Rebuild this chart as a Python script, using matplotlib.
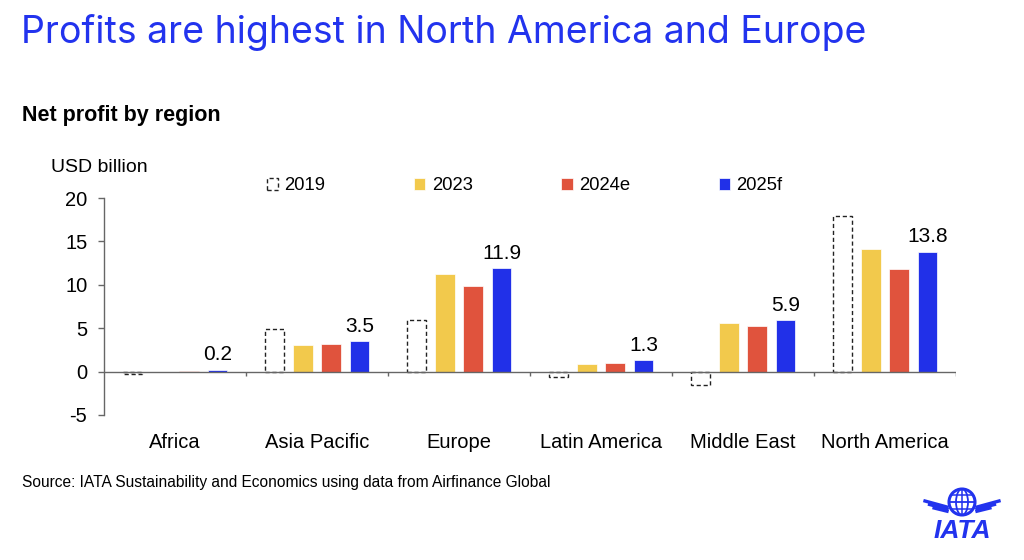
import matplotlib
matplotlib.use("Agg")
import matplotlib.pyplot as plt
import numpy as np
from matplotlib.patches import Circle, Ellipse

regions = ["Africa", "Asia Pacific", "Europe", "Latin America", "Middle East", "North America"]
series_names = ["2019", "2023", "2024e", "2025f"]
v2019 = [-0.3, 4.9, 6.0, -0.6, -1.5, 17.9]
v2023 = [-0.1, 3.1, 11.2, 0.9, 5.6, 14.1]
v2024 = [0.1, 3.2, 9.9, 1.0, 5.3, 11.8]
v2025 = [0.2, 3.5, 11.9, 1.3, 5.9, 13.8]
label_2025 = ["0.2", "3.5", "11.9", "1.3", "5.9", "13.8"]
yticks = [-5, 0, 5, 10, 15, 20]

BLUE = "#2233EE"
YELLOW = "#F2C94C"
RED = "#E0533D"
BAR_BLUE = "#2130E8"
AXIS = "#666666"
FONT = ["Liberation Sans", "DejaVu Sans"]

plt.rcParams["font.family"] = FONT
plt.rcParams["axes.unicode_minus"] = False

fig = plt.figure(figsize=(10.24, 5.6), dpi=100)
ax = fig.add_axes([104/1024, 1-415/560, (956-104)/1024, (415-198)/560])

x = np.arange(len(regions))
w = 0.137
off = 0.2
ax.bar(x - 1.5*off, v2019, w, facecolor="white", edgecolor="#222222",
       linewidth=1.0, linestyle=(0, (3, 2)), label=series_names[0], zorder=3)
ax.bar(x - 0.5*off, v2023, w, color=YELLOW, edgecolor="white", linewidth=0.5, label=series_names[1], zorder=3)
ax.bar(x + 0.5*off, v2024, w, color=RED, edgecolor="white", linewidth=0.5, label=series_names[2], zorder=3)
ax.bar(x + 1.5*off, v2025, w, color=BAR_BLUE, edgecolor="white", linewidth=0.5, label=series_names[3], zorder=3)

for xi, v, lab in zip(x, v2025, label_2025):
    ax.annotate(lab, (xi + 1.5*off, max(v, 0)), xytext=(0, 4), textcoords="offset points",
                ha="center", va="bottom", fontsize=15)

ax.set_xlim(-0.5, len(regions) - 0.5)
ax.set_ylim(-5, 20)
ax.set_yticks(yticks)
ax.tick_params(axis="y", length=4, width=1, color=AXIS, labelsize=14.5, pad=8)
ax.set_xticks(x)
ax.set_xticklabels(regions)
ax.tick_params(axis="x", length=0, labelsize=14.5, pad=13)
for s in ["top", "right", "bottom"]:
    ax.spines[s].set_visible(False)
ax.spines["left"].set_color(AXIS)
ax.spines["left"].set_linewidth(1)

ax.axhline(0, color=AXIS, linewidth=1, zorder=4)
bounds = np.arange(0.5, len(regions), 1.0)
ax.vlines(bounds, -0.5, 0, color=AXIS, linewidth=1, zorder=4)

fig.text(21/1024, 1-33/560, "Profits are highest in North America and Europe",
         fontsize=27, color=BLUE, family=["Inter", "DejaVu Sans"], va="center", ha="left")
fig.text(22/1024, 1-116/560, "Net profit by region", fontsize=15.5, fontweight="bold",
         va="center", ha="left")
fig.text(51/1024, 1-168/560, "USD billion", fontsize=14, va="center", ha="left")
fig.text(22/1024, 1-482/560,
         "Source: IATA Sustainability and Economics using data from Airfinance Global",
         fontsize=11.2, va="center", ha="left")

handles, labels = ax.get_legend_handles_labels()
fig.legend(handles, labels, ncol=4, loc="center left",
           bbox_to_anchor=(267/1024, 1-186/560), frameon=False,
           fontsize=13.3, handlelength=0.6, handleheight=0.6,
           handletextpad=0.35, columnspacing=4.8, borderaxespad=0, borderpad=0)

# IATA logo (decorative)
lax = fig.add_axes([915/1024, 3/560, 95/1024, 80/560])
lax.set_xlim(0, 95)
lax.set_ylim(0, 80)
lax.axis("off")
lax.add_patch(Circle((47, 55), 13, facecolor="none", edgecolor=BLUE, linewidth=2.2))
lax.add_patch(Ellipse((47, 55), 12, 26, facecolor="none", edgecolor=BLUE, linewidth=1.3))
lax.plot([34, 60], [55, 55], color=BLUE, lw=1.3)
lax.plot([36, 58], [62, 62], color=BLUE, lw=1.1)
lax.plot([36, 58], [48, 48], color=BLUE, lw=1.1)
lax.plot([47, 47], [42, 68], color=BLUE, lw=1.1)
for dy in (0, 3.5, 7):
    lax.plot([10 + dy*1.3, 32], [56 - dy, 50 - dy*0.6], color=BLUE, lw=2.4)
    lax.plot([84 - dy*1.3, 62], [56 - dy, 50 - dy*0.6], color=BLUE, lw=2.4)
lax.text(47, 26, "IATA", color=BLUE, fontsize=19, fontweight="bold", style="italic",
         ha="center", va="center", family=FONT)

fig.savefig("out.png", dpi=100, facecolor="white")
